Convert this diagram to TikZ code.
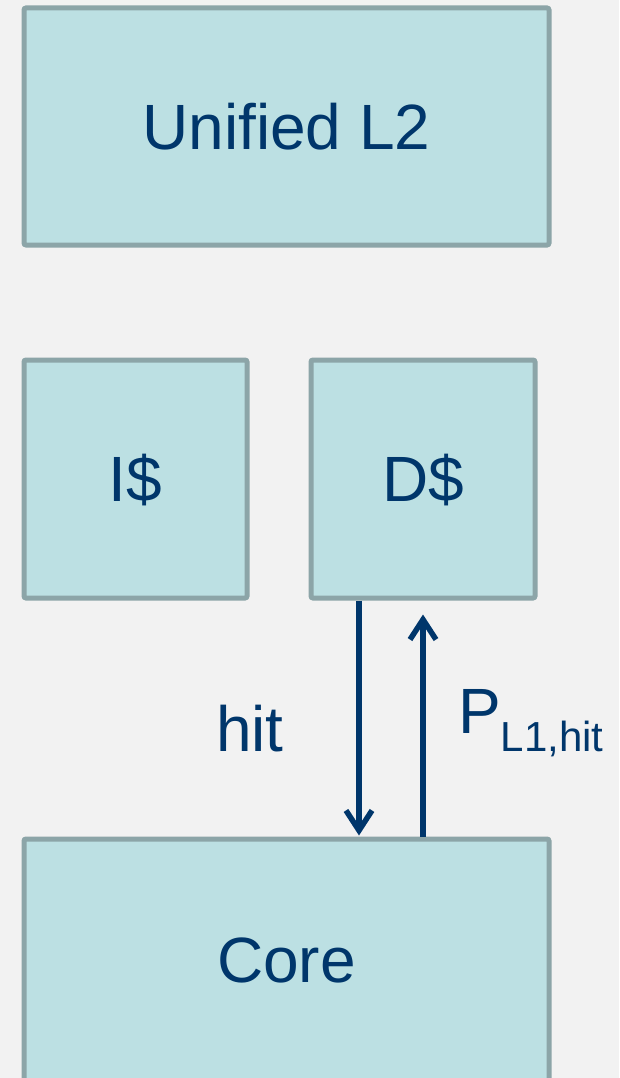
\documentclass[tikz,border=0pt]{standalone}
\usepackage{fontspec}
\setmainfont{Liberation Sans}
\usetikzlibrary{arrows.meta}
\definecolor{bgc}{HTML}{F2F2F2}
\definecolor{boxfill}{HTML}{BCE0E3}
\definecolor{boxline}{HTML}{8CA5A8}
\definecolor{navy}{HTML}{00366B}
\begin{document}
\begin{tikzpicture}[x=1pt,y=-1pt,
  cachebox/.style={draw=boxline, fill=boxfill, line width=5pt, rounded corners=2pt,
    inner sep=0pt, text=navy, font=\fontsize{64}{70}\selectfont,
    text height=45.8pt, text depth=0pt},
  lbl/.style={text=navy, font=\fontsize{64}{70}\selectfont, inner sep=0pt},
  flow/.style={draw=navy, line width=5.5pt,
    -{Straight Barb[length=20pt, width=26pt, line width=5.5pt]}}]
\useasboundingbox (0,0) rectangle (619,1078);
\fill[bgc] (0,0) rectangle (619,1078);
\node[cachebox, minimum width=525pt, minimum height=237pt] (l2) at (286.5,126.5) {Unified L2};
\node[cachebox, minimum width=223pt, minimum height=238pt] (ic) at (135.5,479) {I\$};
\node[cachebox, minimum width=224pt, minimum height=238pt] (dc) at (423,479) {D\$};
\node[cachebox, minimum width=525pt, minimum height=242pt] (core) at (286.5,960) {Core};
\coordinate (xdown) at (359,0);
\coordinate (xup) at (423,0);
\draw[flow, shorten >=1pt] (dc.south -| xdown) -- (core.north -| xdown);
\draw[flow, shorten >=14pt] (core.north -| xup) -- (dc.south -| xup);
\node[lbl, anchor=base] (hit) at (250,751) {hit};
\node[lbl, anchor=base west] (phit) at (458,733) {P\raisebox{-18pt}{\fontsize{42}{48}\selectfont L1,hit}};
\end{tikzpicture}
\end{document}
